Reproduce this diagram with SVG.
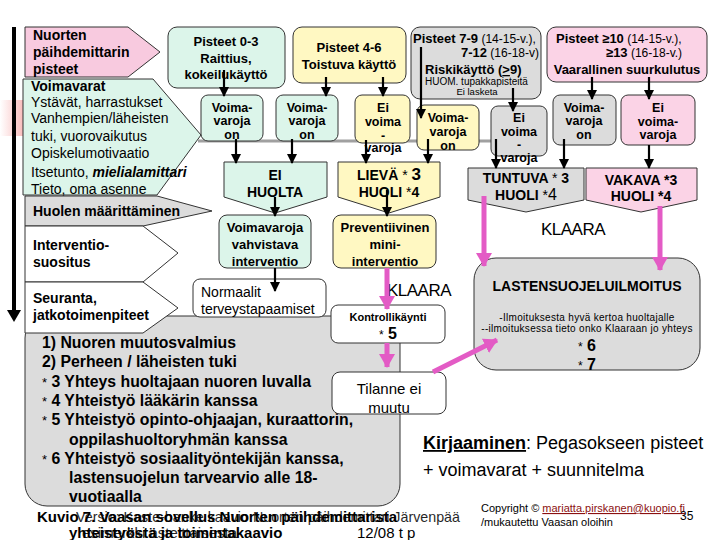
<svg xmlns="http://www.w3.org/2000/svg" width="720" height="540" viewBox="0 0 720 540">
<defs>
<style>
text{font-family:"Liberation Sans",Arial,sans-serif;fill:#000}
.b{font-weight:bold}
.n{font-weight:normal}
.c{text-anchor:middle}
.e{text-anchor:end}
.sh{stroke:#333;stroke-width:1}
.g{fill:#dcf5ea}
.y{fill:#fff8c2}
.gr{fill:#dcdcdc}
.pk{fill:#fbd3e6}
.pk2{fill:#f8cadf}
.w{fill:#fff}
.ar{stroke:#000;stroke-width:2.2;fill:none;marker-end:url(#ah)}
.pa{stroke:#e35bc5;stroke-width:5;fill:none;marker-end:url(#ph)}
.f13{font-size:13px}
.f12{font-size:12.5px}
.f14{font-size:14px}
.li{font-size:15.8px;font-weight:bold}
</style>
<marker id="ah" markerUnits="userSpaceOnUse" markerWidth="10" markerHeight="10" refX="9" refY="5" orient="auto"><path d="M0,0 L10,5 L0,10 Z" fill="#000"/></marker>
<marker id="ph" markerUnits="userSpaceOnUse" markerWidth="14" markerHeight="16" refX="13" refY="8" orient="auto"><path d="M0,0 L14,8 L0,16 Z" fill="#e35bc5"/></marker>
<linearGradient id="rg" x1="0" x2="1" y1="0" y2="0"><stop offset="0" stop-color="#fff"/><stop offset="1" stop-color="#f27070"/></linearGradient>
</defs>
<rect width="720" height="540" fill="#fff"/>
<rect x="0" y="100" width="30" height="36" fill="url(#rg)" opacity="0.6"/>

<g id="big-list">
<rect class="sh gr" x="25" y="316" width="375" height="190" rx="22"/>
<text class="li" x="42" y="348">1) Nuoren muutosvalmius</text>
<text class="li" x="42" y="367">2) Perheen / läheisten tuki</text>
<text class="li" x="42" y="387"><tspan class="n" font-size="13">*</tspan> 3 Yhteys huoltajaan nuoren luvalla</text>
<text class="li" x="42" y="406"><tspan class="n" font-size="13">*</tspan> 4 Yhteistyö lääkärin kanssa</text>
<text class="li" x="42" y="425"><tspan class="n" font-size="13">*</tspan> 5 Yhteistyö opinto-ohjaajan, kuraattorin,</text>
<text class="li" x="69" y="445">oppilashuoltoryhmän kanssa</text>
<text class="li" x="42" y="464"><tspan class="n" font-size="13">*</tspan> 6 Yhteistyö sosiaalityöntekijän kanssa,</text>
<text class="li" x="69" y="483">lastensuojelun tarvearvio alle 18-</text>
<text class="li" x="69" y="502">vuotiaalla</text>
</g>

<g id="nuorten">
<path class="sh pk2" d="M25,27 H128 L160,52 L128,77 H25 Z"/>
<text class="b f14" x="33" y="40">Nuorten</text>
<text class="b f14" x="33" y="57">päihdemittarin</text>
<text class="b f14" x="33" y="74">pisteet</text>
</g>
<g id="voimavarat">
<path class="sh g" d="M23,79 H153 L201,135 L157,195 H23 Z"/>
<text class="b f14" x="31" y="91">Voimavarat</text>
<text class="f14" x="31" y="107">Ystävät, harrastukset</text>
<text class="f14" x="31" y="123">Vanhempien/läheisten</text>
<text class="f14" x="31" y="141">tuki, vuorovaikutus</text>
<text class="f14" x="31" y="158">Opiskelumotivaatio</text>
<text class="f14" x="31" y="177">Itsetunto, <tspan font-weight="bold" font-style="italic">mielialamittari</tspan></text>
<text class="f14" x="31" y="194">Tieto, oma asenne</text>
</g>
<g id="huolen">
<path class="sh gr" d="M25,196 H157 L212,211 L143,226 H25 Z"/>
<text class="b f14" x="33" y="216">Huolen määrittäminen</text>
</g>
<g id="interventiosuositus">
<path class="sh w" d="M25,226 H143 L178,253 L143,282 H25 Z"/>
<text class="b f14" x="33" y="250">Interventio-</text>
<text class="b f14" x="33" y="267">suositus</text>
</g>
<g id="seuranta">
<path class="sh w" d="M25,282 H143 L178,308 L143,333 H25 Z"/>
<text class="b f14" x="33" y="303">Seuranta,</text>
<text class="b f14" x="33" y="320">jatkotoimenpiteet</text>
</g>
<g id="timeline">
<line x1="14" y1="27" x2="14" y2="312" stroke="#000" stroke-width="4"/>
<path d="M7,310 L21,310 L14,322 Z" fill="#000"/>
</g>

<line x1="198" y1="141" x2="495" y2="141" stroke="#a0a0a0" stroke-width="3"/>

<g id="p03">
<rect class="sh g" x="168" y="27" width="117" height="61" rx="9"/>
<text class="b f13 c" x="226" y="46">Pisteet 0-3</text>
<text class="b f13 c" x="226" y="63">Raittius,</text>
<text class="b f13 c" x="226" y="79">kokeilukäyttö</text>
</g>
<g id="p46">
<rect class="sh y" x="293" y="27" width="113" height="56" rx="9"/>
<text class="b f13 c" x="349" y="52">Pisteet 4-6</text>
<text class="b f13 c" x="349" y="69">Toistuva käyttö</text>
</g>
<g id="p79">
<rect class="sh gr" x="411" y="27" width="130" height="72" rx="9"/>
<text class="b f13" x="413" y="43">Pisteet 7-9<tspan class="n" font-size="12"> (14-15-v.),</tspan></text>
<text class="b f13 e" x="539" y="57">7-12<tspan class="n" font-size="12"> (16-18-v)</tspan></text>
<text class="b f13" x="425" y="74">Riskikäyttö (<tspan text-decoration="underline">&gt;</tspan>9)</text>
<text font-size="10" x="425" y="85">HUOM. tupakkapisteitä</text>
<text font-size="9.5" class="c" x="477" y="95">Ei lasketa</text>
</g>
<g id="p10">
<rect class="sh pk" x="547" y="27" width="160" height="55" rx="9"/>
<text class="b f13" x="556" y="43">Pisteet ≥10<tspan class="n" font-size="12"> (14-15-v.),</tspan></text>
<text class="b f13" x="606" y="57">≥13<tspan class="n" font-size="12"> (16-18-v.)</tspan></text>
<text class="b f13 c" x="627" y="74">Vaarallinen suurkulutus</text>
</g>

<g id="v1">
<rect class="sh g" x="201" y="95" width="62" height="46" rx="7"/>
<text class="b f12 c" x="232" y="112">Voima-</text>
<text class="b f12 c" x="232" y="125">varoja</text>
<text class="b f12 c" x="232" y="139">on</text>
</g>
<g id="v2">
<rect class="sh g" x="276" y="95" width="62" height="46" rx="7"/>
<text class="b f12 c" x="307" y="112">Voima-</text>
<text class="b f12 c" x="307" y="125">varoja</text>
<text class="b f12 c" x="307" y="139">on</text>
</g>
<g id="v3">
<rect class="sh y" x="355" y="95" width="55" height="48" rx="7"/>
<text class="b f12 c" x="383" y="112">Ei</text>
<text class="b f12 c" x="383" y="126">voima</text>
<text class="b f12 c" x="383" y="140">-</text>
<text class="b f12 c" x="383" y="152">varoja</text>
</g>
<g id="v4">
<rect class="sh y" x="417" y="105" width="62" height="45" rx="7"/>
<text class="b f12 c" x="448" y="122">Voima-</text>
<text class="b f12 c" x="448" y="136">varoja</text>
<text class="b f12 c" x="448" y="150">on</text>
</g>
<g id="v5">
<rect class="sh gr" x="491" y="106" width="56" height="50" rx="7"/>
<text class="b f12 c" x="519" y="122">Ei</text>
<text class="b f12 c" x="519" y="136">voima</text>
<text class="b f12 c" x="519" y="149">-</text>
<text class="b f12 c" x="519" y="162">varoja</text>
</g>
<g id="v6">
<rect class="sh gr" x="553" y="95" width="63" height="50" rx="7"/>
<text class="b f12 c" x="584" y="112">Voima-</text>
<text class="b f12 c" x="584" y="125">varoja</text>
<text class="b f12 c" x="584" y="139">on</text>
</g>
<g id="v7">
<rect class="sh pk" x="621" y="95" width="74" height="50" rx="7"/>
<text class="b f12 c" x="658" y="112">Ei</text>
<text class="b f12 c" x="658" y="126">voima-</text>
<text class="b f12 c" x="658" y="139">varoja</text>
</g>

<g id="eihuolta">
<path class="sh g" d="M224,162 H327 V197 L275,213 L224,197 Z"/>
<text class="b f14 c" x="275" y="180">EI</text>
<text class="b f14 c" x="275" y="197">HUOLTA</text>
</g>
<g id="lieva">
<path class="sh y" d="M338,162 H440 V197 L389,213 L338,197 Z"/>
<text class="b f14 c" x="389" y="180">LIEVÄ <tspan class="n">*</tspan> <tspan font-size="17">3</tspan></text>
<text class="b f14 c" x="389" y="197">HUOLI <tspan class="n">*</tspan>4</text>
</g>
<g id="tuntuva">
<path class="sh gr" d="M468,168 H584 V200 L526,212 L468,200 Z"/>
<text class="b f14 c" x="526" y="183">TUNTUVA <tspan class="n">*</tspan> 3</text>
<text class="b f14 c" x="526" y="200">HUOLI <tspan class="n">*</tspan><tspan class="n" font-size="16">4</tspan></text>
</g>
<g id="vakava">
<path class="sh pk" d="M586,168 H697 V200 L641,212 L586,200 Z"/>
<text class="b f14 c" x="641" y="185">VAKAVA *3</text>
<text class="b f14 c" x="641" y="201">HUOLI *4</text>
</g>

<g id="vahvistava">
<rect class="sh g" x="219" y="215" width="92" height="53" rx="8"/>
<text class="b f13 c" x="265" y="232">Voimavaroja</text>
<text class="b f13 c" x="265" y="249">vahvistava</text>
<text class="b f13 c" x="265" y="266">interventio</text>
</g>
<g id="preventiivinen">
<rect class="sh y" x="333" y="215" width="103" height="53" rx="8"/>
<text class="b f13 c" x="385" y="232">Preventiivinen</text>
<text class="b f13 c" x="385" y="249">mini-</text>
<text class="b f13 c" x="385" y="266">interventio</text>
</g>
<g id="normaalit">
<rect class="sh w" x="193" y="279" width="133" height="38" rx="7"/>
<text class="f14" x="201" y="297">Normaalit</text>
<text class="f14" x="201" y="314">terveystapaamiset</text>
</g>
<g id="kontrolli">
<rect class="sh w" x="331" y="305" width="114" height="38" rx="7"/>
<text class="b c" font-size="11" x="388" y="321">Kontrollikäynti</text>
<text class="b c" font-size="16" x="388" y="339"><tspan class="n" font-size="12">*</tspan> 5</text>
</g>
<g id="tilanne">
<rect class="sh w" x="332" y="372" width="114" height="42" rx="8"/>
<text class="c" font-size="15" x="389" y="394">Tilanne ei</text>
<text class="c" font-size="15" x="389" y="413">muutu</text>
</g>
<g id="lastensuojelu">
<rect class="sh gr" x="474" y="258" width="226" height="112" rx="22"/>
<text class="b c" font-size="14" x="587" y="291">LASTENSUOJELUILMOITUS</text>
<text class="c" font-size="10" letter-spacing="0.3" x="587" y="321">-Ilmoituksesta hyvä kertoa huoltajalle</text>
<text class="c" font-size="10" letter-spacing="0.3" x="587" y="332">--ilmoituksessa tieto onko Klaaraan jo yhteys</text>
<text class="b c" font-size="16" x="587" y="351"><tspan class="n" font-size="12">*</tspan> 6</text>
<text class="b c" font-size="16" x="587" y="370"><tspan class="n" font-size="12">*</tspan> 7</text>
</g>

<g id="labels">
<text font-size="17" class="c" x="419" y="296" letter-spacing="-0.5">KLAARA</text>
<text font-size="17" class="c" x="573" y="235" letter-spacing="-0.5">KLAARA</text>
<text font-size="18" x="423" y="449"><tspan class="b" text-decoration="underline">Kirjaaminen</tspan>: Pegasokseen pisteet</text>
<text font-size="18" x="423" y="476">+ voimavarat + suunnitelma</text>
<text font-size="11" x="481" y="512">Copyright © <tspan fill="#8b1010" text-decoration="underline">mariatta.pirskanen@kuopio.fi</tspan></text>
<text font-size="11" x="481" y="526">/mukautettu Vaasan oloihin</text>
<text font-size="12" x="680" y="520">35</text>
<text font-size="15" x="37" y="522" class="b">Kuvio 7. Vaasan sovellus Nuorten päihdemittarista</text>
<text font-size="15" x="76" y="522" opacity="0.85" textLength="384" lengthAdjust="spacingAndGlyphs">Versio: Kaste-hanke kaavio Nuorten päihdemittari Järvenpää</text>
<text font-size="15" x="69" y="538" class="b">yhteistyöstä ja toimintakaavio</text>
<text font-size="15" x="82" y="538" opacity="0.85">esimerkki asteittaisesta</text>
<text font-size="15" x="357" y="538">12/08 t p</text>
</g>

<g id="connectors">
<line class="ar" x1="224" y1="70" x2="224" y2="96"/>
<line class="ar" x1="326" y1="77" x2="326" y2="96"/>
<line class="ar" x1="383" y1="77" x2="383" y2="96"/>
<line class="ar" x1="421" y1="47" x2="421" y2="118"/>
<line class="ar" x1="513" y1="88" x2="513" y2="111"/>
<line class="ar" x1="592" y1="77" x2="592" y2="99"/>
<line class="ar" x1="649" y1="77" x2="649" y2="99"/>
<line class="ar" x1="236" y1="139" x2="236" y2="163"/>
<line class="ar" x1="292" y1="139" x2="292" y2="163"/>
<line class="ar" x1="366" y1="140" x2="366" y2="163"/>
<line class="ar" x1="428" y1="139" x2="428" y2="163"/>
<line class="ar" x1="496" y1="139" x2="496" y2="168"/>
<line class="ar" x1="564" y1="139" x2="564" y2="168"/>
<line class="ar" x1="649" y1="145" x2="649" y2="168"/>
<line class="ar" x1="275" y1="197" x2="275" y2="216"/>
<line class="ar" x1="387" y1="190" x2="387" y2="216"/>
<line class="ar" x1="275" y1="268" x2="275" y2="291"/>
<line class="pa" x1="387" y1="268" x2="387" y2="309"/>
<line class="pa" x1="387" y1="343" x2="387" y2="367"/>
<line class="pa" x1="433" y1="372" x2="497" y2="340"/>
<line class="pa" x1="484" y1="196" x2="484" y2="266"/>
<line class="pa" x1="660" y1="206" x2="660" y2="270"/>
</g>
</svg>
